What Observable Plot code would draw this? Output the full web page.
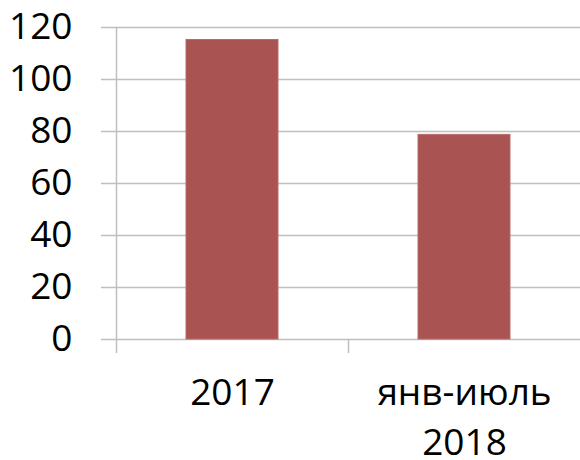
<!DOCTYPE html>
<html><head><meta charset="utf-8">
<script src="https://cdn.jsdelivr.net/npm/d3@7"></script>
<script src="https://cdn.jsdelivr.net/npm/@observablehq/plot@0.6"></script>
<style>body{margin:0;background:#fff}#chart svg{display:block}</style>
</head><body><div id="chart"></div>
<script>
const categories = ["2017", "янв-июль\n2018"];
const values = [115.2, 78.7];
const yTicks = [0, 20, 40, 60, 80, 100, 120];

const data = categories.map((c, i) => ({category: c, value: values[i]}));
const gridColor = "#bfbfbf";

// category boundary ticks and left axis line, positioned through the x/y scales
function boundaryTicks(index, scales) {
  const g = document.createElementNS("http://www.w3.org/2000/svg", "g");
  const x = scales.x, y = scales.y;
  const y0 = y(0), yTop = y(yTicks[yTicks.length - 1]);
  categories.forEach((c, i) => {
    const line = document.createElementNS("http://www.w3.org/2000/svg", "line");
    const xp = Math.round(x(c)) + 0.5;
    line.setAttribute("x1", xp); line.setAttribute("x2", xp);
    line.setAttribute("y1", i === 0 ? yTop : y0);
    line.setAttribute("y2", y0 + 14);
    line.setAttribute("stroke", gridColor);
    line.setAttribute("stroke-width", 1.5);
    g.appendChild(line);
  });
  return g;
}

const chart = Plot.plot({
  width: 580,
  height: 460,
  marginLeft: 115,
  marginRight: 0,
  marginTop: 27,
  marginBottom: 121,
  style: {fontFamily: "'Open Sans', sans-serif", background: "#fff", color: "#000"},
  x: {domain: categories, padding: 0, label: null},
  y: {domain: [0, 120], label: null},
  marks: [
    Plot.gridY(yTicks, {stroke: gridColor, strokeOpacity: 1, strokeWidth: 1.5}),
    Plot.axisY(yTicks, {tickSize: 14, tickPadding: 29, fontSize: 37, stroke: gridColor, strokeWidth: 1.5, fill: "#000", label: null}),
    Plot.barY(data, {x: "category", y: "value", fill: "#a95352", stroke: "#b86b6a", strokeWidth: 1, insetLeft: 70, insetRight: 70}),
    Plot.axisX({tickSize: 0, tickPadding: 31, fontSize: 37, lineHeight: 1.33, fill: "#000", label: null}),
    boundaryTicks
  ]
});
document.getElementById("chart").appendChild(chart);
</script>
</body></html>
